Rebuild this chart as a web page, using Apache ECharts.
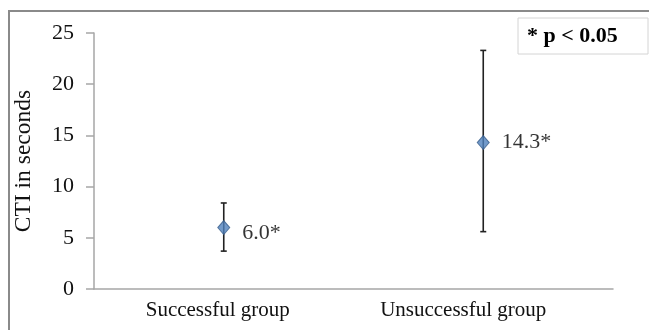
<!DOCTYPE html>
<html>
<head>
<meta charset="utf-8">
<style>
  html, body { margin: 0; padding: 0; background: #fff; }
  #chart { width: 649px; height: 330px; }
</style>
<script src="https://cdn.jsdelivr.net/npm/echarts@6/dist/echarts.min.js"></script>
</head>
<body>
<div id="chart"></div>
<script>
// Groups and their CTI summary values (seconds)
const groups = ['Successful group', 'Unsuccessful group'];
const means = [6.0, 14.3];
const lows = [3.7, 5.6];
const highs = [8.4, 23.3];
const pointLabels = ['6.0*', '14.3*'];
const yTicks = { min: 0, max: 25, interval: 5 };

const serif = '"Liberation Serif", "Times New Roman", serif';

const chart = echarts.init(document.getElementById('chart'));

const errorData = groups.map((g, i) => [i, lows[i], highs[i]]);
// first label sits a little below its marker
const labelOffsets = [[0, 6], [0, 0]];
const pointData = groups.map((g, i) => ({
  value: [i, means[i]],
  label: { offset: labelOffsets[i] }
}));

chart.setOption({
  animation: false,
  backgroundColor: '#fff',
  grid: { left: 94, right: 36, top: 33, bottom: 41 },
  xAxis: {
    type: 'category',
    data: groups,
    boundaryGap: true,
    axisLine: { lineStyle: { color: '#a6a6a6', width: 1.5 } },
    axisTick: { show: false },
    axisLabel: {
      interval: 0,
      hideOverlap: false,
      margin: 11,
      color: '#111',
      fontFamily: serif,
      fontSize: 21,
      formatter: (v, i) => i === 0 ? '{a|' + v + '}' : '{b|' + v + '}',
      rich: {
        a: { fontFamily: serif, fontSize: 21, color: '#111', padding: [0, 12, 0, 0] },
        b: { fontFamily: serif, fontSize: 21, color: '#111', padding: [0, 40, 0, 0] }
      }
    }
  },
  yAxis: {
    type: 'value',
    min: yTicks.min,
    max: yTicks.max,
    interval: yTicks.interval,
    name: 'CTI in seconds',
    nameLocation: 'middle',
    nameGap: 58,
    nameRotate: 90,
    nameTextStyle: { fontFamily: serif, fontSize: 23.5, color: '#111' },
    axisLine: { show: true, lineStyle: { color: '#a6a6a6', width: 1.5 } },
    axisTick: { show: true, length: 8, lineStyle: { color: '#a6a6a6', width: 1.5 } },
    splitLine: { show: false },
    axisLabel: { margin: 20, color: '#111', fontFamily: serif, fontSize: 22 }
  },
  series: [
    {
      type: 'custom',
      data: errorData,
      z: 2,
      renderItem: function (params, api) {
        const x = api.value(0);
        const lo = api.coord([x, api.value(1)]);
        const hi = api.coord([x, api.value(2)]);
        const cap = 3;
        const style = { stroke: '#222', lineWidth: 1.6 };
        return {
          type: 'group',
          children: [
            { type: 'line', shape: { x1: lo[0], y1: lo[1], x2: hi[0], y2: hi[1] }, style },
            { type: 'line', shape: { x1: hi[0] - cap, y1: hi[1], x2: hi[0] + cap, y2: hi[1] }, style },
            { type: 'line', shape: { x1: lo[0] - cap, y1: lo[1], x2: lo[0] + cap, y2: lo[1] }, style }
          ]
        };
      }
    },
    {
      type: 'scatter',
      data: pointData,
      z: 3,
      symbol: 'diamond',
      symbolSize: [12, 14],
      itemStyle: { color: '#4f81bd', borderColor: '#385d8a', borderWidth: 1 },
      label: {
        show: true,
        position: 'right',
        distance: 12,
        fontFamily: serif,
        fontSize: 22,
        color: '#000',
        formatter: p => pointLabels[p.dataIndex]
      }
    }
  ],
  graphic: [
    {
      type: 'rect',
      shape: { x: 9, y: 11, width: 700, height: 400 },
      style: { fill: 'none', stroke: '#8a8a8a', lineWidth: 2 },
      silent: true
    },
    {
      type: 'rect',
      shape: { x: 518, y: 18, width: 130, height: 36 },
      style: { fill: '#fff', stroke: '#d4d4d4', lineWidth: 1 },
      silent: true
    },
    {
      type: 'text',
      x: 527,
      y: 36,
      style: {
        text: '* p < 0.05',
        fontFamily: serif,
        fontWeight: 'bold',
        fontSize: 22,
        fill: '#000',
        verticalAlign: 'middle'
      },
      silent: true
    }
  ]
});
</script>
</body>
</html>
